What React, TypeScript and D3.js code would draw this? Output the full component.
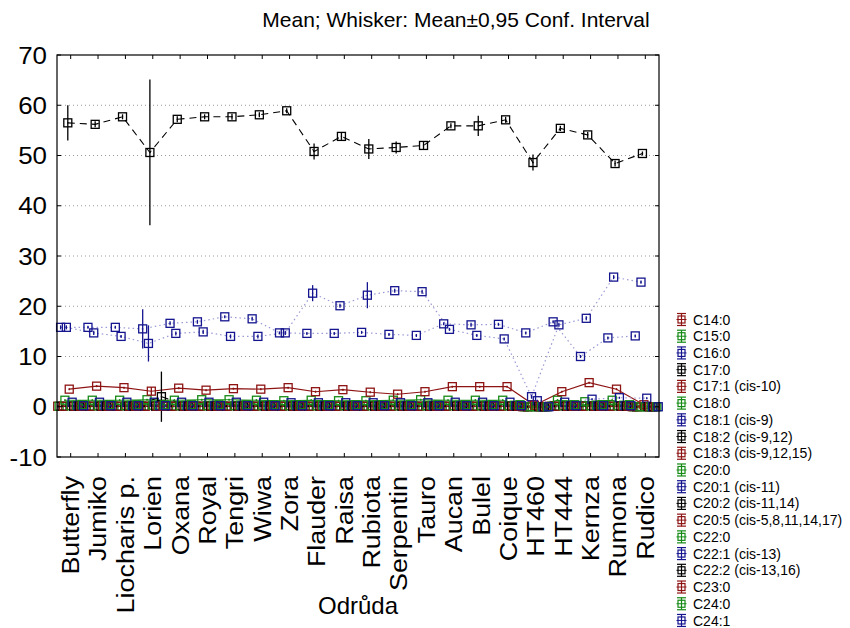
import React from "react";
import * as d3 from "d3";

const categories = ["Butterfly","Jumiko","Liocharis p.","Lorien","Oxana","Royal","Tengri","Wiwa","Zora","Flauder","Raisa","Rubiota","Serpentin","Tauro","Aucan","Bulel","Coique","HT460","HT444","Kernza","Rumona","Rudico"];

const seriesNames = ["C14:0","C15:0","C16:0","C17:0","C17:1 (cis-10)","C18:0","C18:1 (cis-9)","C18:2 (cis-9,12)","C18:3 (cis-9,12,15)","C20:0","C20:1 (cis-11)","C20:2 (cis-11,14)","C20:5 (cis-5,8,11,14,17)","C22:0","C22:1 (cis-13)","C22:2 (cis-13,16)","C23:0","C24:0","C24:1"];

const C14_0 = [0.1,0.1,0.1,0.2,0.1,0.1,0.1,0.1,0.1,0.1,0.1,0.1,0.1,0.1,0.1,0.1,0.1,0.0,0.1,0.1,0.1,0.0];
const C15_0 = [0.1,0.1,0.1,0.1,0.1,0.1,0.1,0.1,0.1,0.1,0.1,0.1,0.1,0.1,0.1,0.1,0.1,0.0,0.1,0.1,0.1,0.0];
const C16_0 = [15.8,15.8,15.8,15.5,16.6,16.9,17.9,17.5,14.7,14.6,14.6,14.8,14.4,14.2,16.5,16.3,16.4,14.7,16.9,10.0,13.7,14.1];
const C17_0 = [0.1,0.1,0.1,0.1,0.1,0.1,0.1,0.1,0.1,0.1,0.1,0.1,0.1,0.1,0.1,0.1,0.1,0.0,0.1,0.1,0.1,0.0];
const C17_1 = [0.1,0.1,0.1,0.1,0.1,0.1,0.1,0.1,0.1,0.1,0.1,0.1,0.1,0.1,0.1,0.1,0.1,0.0,0.1,0.1,0.1,0.0];
const C18_0 = [1.3,1.3,1.3,1.4,1.3,1.4,1.4,1.3,1.2,1.3,1.2,1.2,1.3,1.4,1.3,1.3,1.3,0.0,1.3,1.0,1.3,0.0];
const C18_1 = [15.8,14.7,14.0,12.6,14.6,14.9,14.0,14.0,14.7,22.6,20.1,22.2,23.1,22.9,15.4,14.2,13.5,2.0,16.3,17.6,25.8,24.8];
const C18_2 = [56.5,56.2,57.7,50.6,57.2,57.7,57.7,58.1,58.9,50.8,53.8,51.3,51.6,52.0,55.9,55.9,57.1,48.6,55.4,54.1,48.4,50.4];
const C18_3 = [3.5,4.1,3.8,3.1,3.7,3.3,3.6,3.5,3.8,3.0,3.4,2.9,2.5,3.0,4.0,4.0,4.0,0.3,3.0,4.8,3.5,0.4];
const C20_0 = [0.2,0.2,0.2,0.3,0.2,0.2,0.2,0.2,0.2,0.2,0.2,0.2,0.2,0.2,0.2,0.2,0.2,0.0,0.2,0.2,0.2,0.0];
const C20_1 = [0.9,0.9,0.9,0.9,0.9,0.9,0.9,0.9,0.8,0.8,0.8,0.8,0.8,0.8,0.9,0.9,0.9,1.2,0.9,1.5,1.8,1.7];
const C20_2 = [0.1,0.1,0.1,0.1,0.1,0.1,0.1,0.1,0.1,0.1,0.1,0.1,0.1,0.1,0.1,0.1,0.1,0.0,0.1,0.1,0.1,0.0];
const C20_5 = [0.1,0.1,0.1,0.1,0.1,0.1,0.1,0.1,0.1,0.1,0.1,0.1,0.1,0.1,0.1,0.1,0.1,0.0,0.1,0.1,0.1,0.0];
const C22_0 = [0.3,0.3,0.3,0.3,0.3,0.3,0.3,0.3,0.3,0.3,0.3,0.3,0.3,0.3,0.3,0.3,0.3,0.0,0.3,0.3,0.3,0.0];
const C22_1 = [0.2,0.2,0.2,0.2,0.2,0.2,0.2,0.2,0.2,0.2,0.2,0.2,0.2,0.2,0.2,0.2,0.2,0.0,0.2,0.2,0.2,0.0];
const C22_2 = [0.1,0.1,0.1,2.0,0.1,0.1,0.1,0.1,0.1,0.1,0.1,0.1,0.1,0.1,0.1,0.1,0.1,0.0,0.1,0.1,0.1,0.0];
const C23_0 = [0.1,0.1,0.1,0.1,0.1,0.1,0.1,0.1,0.1,0.1,0.1,0.1,0.1,0.1,0.1,0.1,0.1,0.0,0.1,0.1,0.1,0.0];
const C24_0 = [0.4,0.4,0.4,0.4,0.4,0.4,0.4,0.4,0.4,0.4,0.4,0.4,0.4,0.4,0.4,0.4,0.4,0.0,0.4,0.4,0.4,0.0];
const C24_1 = [0.2,0.2,0.2,0.2,0.2,0.2,0.2,0.2,0.2,0.2,0.2,0.2,0.2,0.2,0.2,0.2,0.2,0.0,0.2,0.2,0.2,0.0];

// confidence half-widths (95% CI) for the visible series
const CI_C16_0 = [0.4,0.3,0.3,3.9,0.4,0.4,0.3,0.4,0.3,0.3,0.3,0.3,0.3,0.3,0.3,0.4,0.3,0.3,0.3,0.3,0.3,0.3];
const CI_C18_1 = [0.4,0.4,0.3,3.6,0.4,0.4,0.4,0.4,0.4,1.6,0.4,2.6,0.4,0.4,0.3,0.3,0.3,0.4,0.4,0.4,0.4,0.3];
const CI_C18_2 = [3.5,0.6,0.5,14.5,0.6,0.5,0.6,0.5,0.5,1.6,0.7,2.0,1.2,0.8,0.5,2.0,0.6,1.6,0.5,0.6,0.6,0.4];
const CI_C18_3 = [0.2,0.2,0.2,0.8,0.2,0.2,0.2,0.2,0.2,0.2,0.2,0.2,0.2,0.2,0.2,0.2,0.2,0.2,0.2,0.2,0.2,0.2];
const CI_C22_2 = [0.1,0.1,0.1,5.0,0.1,0.1,0.1,0.1,0.1,0.1,0.1,0.1,0.1,0.1,0.1,0.1,0.1,0.1,0.1,0.1,0.1,0.1];
const CI_DEFAULT = 0.2;

const seriesValues = [C14_0,C15_0,C16_0,C17_0,C17_1,C18_0,C18_1,C18_2,C18_3,C20_0,C20_1,C20_2,C20_5,C22_0,C22_1,C22_2,C23_0,C24_0,C24_1];
const seriesCI: (number[] | null)[] = [null,null,CI_C16_0,null,null,null,CI_C18_1,CI_C18_2,CI_C18_3,null,null,null,null,null,null,CI_C22_2,null,null,null];

const yTicks = [-10,0,10,20,30,40,50,60,70];
const gridValues = [0,10,20,30,40,50,60];

const COLORS = ["#8e1414","#158a15","#15158f","#000000"];
const LINE_COLORS = ["#8e1414","#158a15","#9a9ad6","#000000"];
const DASH = [null, null, "1.5,3", "7,5"];

const FONT = "'Liberation Sans', Arial, sans-serif";

export default function App() {
  const W = 850, H = 628;
  const L = 57, R = 659, T = 55, B = 457;
  const x = d3.scaleBand<string>().domain(categories).range([L, R]).padding(0);
  const y = d3.scaleLinear().domain([-10, 70]).range([B, T]);
  const bw = x.bandwidth();
  const nS = seriesNames.length;
  const step = bw / nS;
  const cx = (ci: number, si: number) => (x(categories[ci]) as number) + bw / 2 + (si - (nS - 1) / 2) * step;
  const line = d3.line<[number, number]>().x(d => d[0]).y(d => d[1]);
  const sq = 8;

  return (
    <svg width={W} height={H} style={{ position: "absolute", left: 0, top: 0, background: "#fff" }} fontFamily={FONT}>
      <rect x={0} y={0} width={W} height={H} fill="#fff" />
      <text x={456} y={27} fontSize={21} textAnchor="middle" fill="#000">Mean; Whisker: Mean±0,95 Conf. Interval</text>

      {gridValues.map(v => (
        <line key={"g" + v} x1={L} x2={R} y1={y(v)} y2={y(v)} stroke="#9a9a9a" strokeWidth={1} strokeDasharray="1,3" />
      ))}

      {/* series lines */}
      {seriesValues.map((vals, si) => {
        const c = si % 4;
        const pts = vals.map((v, ci) => [cx(ci, si), y(v)] as [number, number]);
        return (
          <path key={"l" + si} d={line(pts) || ""} fill="none" stroke={LINE_COLORS[c]}
            strokeWidth={c === 2 ? 1.2 : 1.1} strokeDasharray={DASH[c] || undefined} />
        );
      })}

      {/* markers + whiskers */}
      {seriesValues.map((vals, si) => {
        const c = si % 4;
        const col = COLORS[c];
        const cis = seriesCI[si];
        return (
          <g key={"m" + si}>
            {vals.map((v, ci) => {
              const px = cx(ci, si);
              const h = cis ? cis[ci] : CI_DEFAULT;
              return (
                <g key={ci}>
                  <line x1={px} x2={px} y1={y(v - h)} y2={y(v + h)} stroke={col} strokeWidth={1.3} />
                  <rect x={px - sq / 2} y={y(v) - sq / 2} width={sq} height={sq} fill="none" stroke={col} strokeWidth={1.3} />
                  <rect x={px - 0.6} y={y(v) - 0.6} width={1.2} height={1.2} fill={col} />
                </g>
              );
            })}
          </g>
        );
      })}

      {/* frame */}
      <rect x={L} y={T} width={R - L} height={B - T} fill="none" stroke="#000" strokeWidth={1.2} />
      {categories.map((c, i) => {
        const px = (x(c) as number) + bw / 2;
        return (
          <g key={"t" + i}>
            <line x1={px} x2={px} y1={T} y2={T + 4} stroke="#000" />
            <line x1={px} x2={px} y1={B} y2={B - 4} stroke="#000" />
            <text transform={`translate(${px},${B + 19}) rotate(-90) scale(1.12,1)`} dy="0.35em" fontSize={24} textAnchor="end" fill="#000">{c}</text>
          </g>
        );
      })}
      {yTicks.map(v => (
        <g key={"y" + v}>
          <line x1={L} x2={L + 4} y1={y(v)} y2={y(v)} stroke="#000" />
          <line x1={R} x2={R - 4} y1={y(v)} y2={y(v)} stroke="#000" />
          <text transform={`translate(47,${y(v)}) scale(1.08,1)`} dy="0.36em" fontSize={24} textAnchor="end" fill="#000">{v}</text>
        </g>
      ))}
      <text x={(L + R) / 2} y={614} fontSize={24} textAnchor="middle" fill="#000">Odrůda</text>

      {/* legend */}
      {seriesNames.map((n, si) => {
        const c = si % 4;
        const col = COLORS[c];
        const ly = 319.5 + si * 16.72;
        const ix = 681.5;
        return (
          <g key={"lg" + si}>
            <line x1={ix - 4.5} x2={ix + 4.5} y1={ly - 6} y2={ly - 6} stroke={col} strokeWidth={1.2} />
            <line x1={ix - 4.5} x2={ix + 4.5} y1={ly + 6} y2={ly + 6} stroke={col} strokeWidth={1.2} />
            <line x1={ix} x2={ix} y1={ly - 6} y2={ly + 6} stroke={col} strokeWidth={1.2} />
            <line x1={ix - 5} x2={ix + 5} y1={ly} y2={ly} stroke={col} strokeWidth={1} />
            <rect x={ix - 3.5} y={ly - 3.5} width={7} height={7} fill="none" stroke={col} strokeWidth={1.2} />
            <text x={693} y={ly} dy="0.36em" fontSize={14} fill="#000">{n}</text>
          </g>
        );
      })}
    </svg>
  );
}
